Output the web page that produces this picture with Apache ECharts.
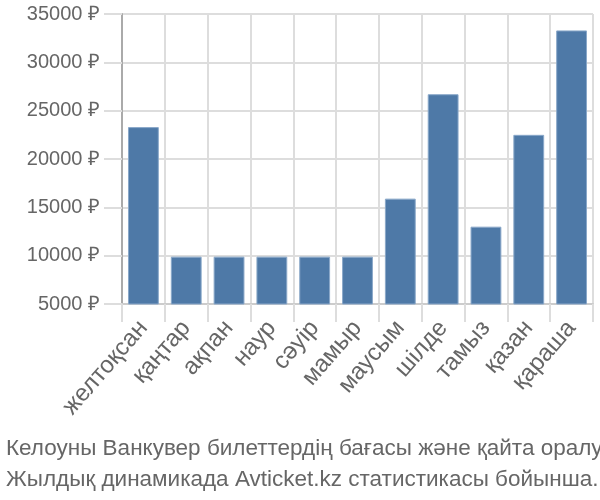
<!DOCTYPE html>
<html><head><meta charset="utf-8">
<script src="https://cdn.jsdelivr.net/npm/echarts@6/dist/echarts.min.js"></script>
<style>html,body{margin:0;padding:0;background:#fff}#c{width:600px;height:500px}</style>
</head><body><div id="c"></div>
<script>
var categories = ['желтоқсан','қаңтар','ақпан','наур','сәуір','мамыр','маусым','шілде','тамыз','қазан','қараша'];
var prices = [23300, 9900, 9900, 9900, 9900, 9900, 15900, 26700, 13000, 22500, 33300];
var titleLines = ['Келоуны Ванкувер билеттердің бағасы және қайта оралу', 'Жылдық динамикада Avticket.kz статистикасы бойынша.'];
var yMin = 5000, yMax = 35000, yStep = 5000;

var chart = echarts.init(document.getElementById('c'), null, {renderer:'canvas'});
var font = '"Liberation Sans", Arial, sans-serif';
chart.setOption({
  animation: false,
  textStyle: {fontFamily: font},
  title: {
    text: titleLines.join('\n'),
    left: 1, top: 428,
    textStyle: {fontFamily: font, fontSize: 22.5, fontWeight: 'normal', color: '#666', lineHeight: 31}
  },
  grid: {left: 122, right: 7, top: 14, bottom: 196, containLabel: false},
  xAxis: {
    type: 'category', data: categories,
    axisLine: {show: true, lineStyle: {color: '#ccc', width: 2}},
    axisTick: {show: true, length: 18, lineStyle: {color: '#ddd', width: 2}},
    splitLine: {show: true, lineStyle: {color: '#ddd', width: 2}},
    axisLabel: {rotate: 49, fontSize: 24, color: '#666', margin: 20, interval: 0, fontFamily: font}
  },
  yAxis: {
    type: 'value', min: yMin, max: yMax, interval: yStep,
    axisLine: {show: true, lineStyle: {color: '#aaa', width: 2}},
    axisTick: {show: true, length: 18, lineStyle: {color: '#ddd', width: 2}},
    splitLine: {show: true, lineStyle: {color: '#ddd', width: 2}},
    axisLabel: {formatter: function (v) { return v + ' ₽'; }, fontSize: 20, color: '#666', margin: 22, fontFamily: font}
  },
  series: [{
    type: 'bar', data: prices, barCategoryGap: '28%',
    itemStyle: {color: '#4e79a7', borderColor: '#8aa8c9', borderWidth: 1}
  }]
});
</script></body></html>
